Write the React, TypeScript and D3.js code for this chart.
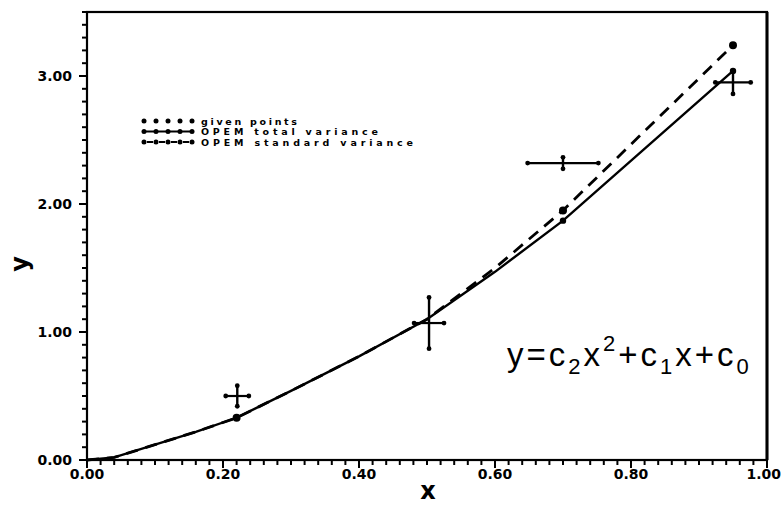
import { useRef, useEffect } from "react";
import * as d3 from "d3";

// axis ticks
const X_MAJOR = [0, 0.2, 0.4, 0.6, 0.8, 1.0];
const X_LABELS = ["0.00", "0.20", "0.40", "0.60", "0.80", "1.00"];
const Y_MAJOR = [0, 1, 2, 3];
const Y_LABELS = ["0.00", "1.00", "2.00", "3.00"];

// fitted curves
const FIT_X = [0.0, 0.04, 0.1, 0.16, 0.22, 0.3, 0.4, 0.5, 0.6, 0.7, 0.95];
const TOTAL_Y = [0, 0.02, 0.12, 0.22, 0.33, 0.54, 0.81, 1.1, 1.47, 1.87, 3.04];
const STANDARD_Y = [0, 0.02, 0.12, 0.22, 0.33, 0.54, 0.81, 1.1, 1.5, 1.95, 3.24];

// fitted values at the data abscissae
const PT_X = [0.22, 0.7, 0.95];
const PT_TOTAL = [0.33, 1.87, 3.04];
const PT_STANDARD = [0.33, 1.95, 3.24];

// measured points with x and y errors
const DATA_X = [0.221, 0.503, 0.7, 0.95];
const DATA_Y = [0.5, 1.07, 2.32, 2.95];
const DATA_XERR = [0.017, 0.022, 0.052, 0.026];
const DATA_YERR = [0.08, 0.2, 0.045, 0.09];

const LEGEND = ["given points", "OPEM total variance", "OPEM standard variance"];

const W = 782;
const H = 511;

export default function App() {
  const svgRef = useRef<SVGSVGElement>(null);

  useEffect(() => {
    const svg = d3.select(svgRef.current);
    svg.selectAll("*").remove();

    const x = d3.scaleLinear().domain([0, 1]).range([87, 767]);
    const y = d3.scaleLinear().domain([0, 3.5]).range([460, 12]);
    const font = "'DejaVu Sans', sans-serif";

    // frame
    const g = svg.append("g");
    g.append("rect")
      .attr("x", x(0)).attr("y", y(3.5))
      .attr("width", x(1) - x(0)).attr("height", y(0) - y(3.5))
      .attr("fill", "none").attr("stroke", "#000").attr("stroke-width", 2.2);
    g.append("line")
      .attr("x1", x(1)).attr("x2", x(1)).attr("y1", y(3.5)).attr("y2", y(0))
      .attr("stroke", "#000").attr("stroke-width", 3);

    // x ticks
    const xMinor = d3.range(0, 51).map((i) => i * 0.02);
    g.selectAll(".xt").data(xMinor).enter().append("line")
      .attr("x1", (d) => x(d)).attr("x2", (d) => x(d))
      .attr("y1", y(0)).attr("y2", (d, i) => y(0) + (i % 10 === 0 ? 8 : 5))
      .attr("stroke", "#000").attr("stroke-width", 2);
    g.selectAll(".xl").data(X_MAJOR).enter().append("text")
      .attr("x", (d, i) => (i === X_MAJOR.length - 1 ? W - 1 : x(d)))
      .attr("y", y(0) + 19)
      .attr("text-anchor", (d, i) => (i === X_MAJOR.length - 1 ? "end" : "middle"))
      .attr("font-family", font).attr("font-weight", "bold").attr("font-size", 14)
      .text((d, i) => X_LABELS[i]);

    // y ticks
    const yMinor = d3.range(0, 36).map((i) => i * 0.1);
    g.selectAll(".yt").data(yMinor).enter().append("line")
      .attr("x1", x(0)).attr("x2", (d, i) => x(0) - (i % 10 === 0 ? 8 : 5))
      .attr("y1", (d) => y(d)).attr("y2", (d) => y(d))
      .attr("stroke", "#000").attr("stroke-width", 2);
    g.selectAll(".yl").data(Y_MAJOR).enter().append("text")
      .attr("x", 72).attr("y", (d) => y(d) + 5)
      .attr("text-anchor", "end")
      .attr("font-family", font).attr("font-weight", "bold").attr("font-size", 14)
      .text((d, i) => Y_LABELS[i]);

    // axis titles
    g.append("text")
      .attr("x", 428).attr("y", 499).attr("text-anchor", "middle")
      .attr("font-family", font).attr("font-size", 24).attr("font-weight", 600).text("x");
    g.append("text")
      .attr("transform", "translate(28,264) rotate(-90)").attr("text-anchor", "middle")
      .attr("font-family", font).attr("font-size", 24).attr("font-weight", 600).text("y");

    // curves
    const line = d3.line<number>().x((d, i) => x(FIT_X[i])).y((d) => y(d));
    g.append("path").attr("d", line(TOTAL_Y))
      .attr("fill", "none").attr("stroke", "#000").attr("stroke-width", 2.4);
    g.append("path").attr("d", line(STANDARD_Y))
      .attr("fill", "none").attr("stroke", "#000").attr("stroke-width", 2.8)
      .attr("stroke-dasharray", "12 8");

    // fitted points
    g.selectAll(".ps").data(PT_STANDARD).enter().append("circle")
      .attr("cx", (d, i) => x(PT_X[i])).attr("cy", (d) => y(d)).attr("r", 4);
    g.selectAll(".pt").data(PT_TOTAL).enter().append("circle")
      .attr("cx", (d, i) => x(PT_X[i])).attr("cy", (d) => y(d)).attr("r", 3.2);

    // error crosses
    DATA_X.forEach((dx, i) => {
      const cx = x(dx), cy = y(DATA_Y[i]);
      const x0 = x(dx - DATA_XERR[i]), x1 = x(dx + DATA_XERR[i]);
      const y0 = y(DATA_Y[i] - DATA_YERR[i]), y1 = y(DATA_Y[i] + DATA_YERR[i]);
      g.append("line").attr("x1", x0).attr("x2", x1).attr("y1", cy).attr("y2", cy)
        .attr("stroke", "#000").attr("stroke-width", 2.2);
      g.append("line").attr("x1", cx).attr("x2", cx).attr("y1", y0).attr("y2", y1)
        .attr("stroke", "#000").attr("stroke-width", 2.4);
      [[x0, cy], [x1, cy], [cx, y0], [cx, y1]].forEach(([px, py]) =>
        g.append("circle").attr("cx", px).attr("cy", py).attr("r", 2.4));
    });

    // legend
    const lg = g.append("g");
    const rows = [121, 131.5, 142];
    const mx = d3.range(0, 5).map((i) => 144 + i * 12);
    const widths = [96, 177, 212];
    LEGEND.forEach((label, r) => {
      const ry = rows[r];
      if (r === 1) {
        lg.append("line").attr("x1", mx[0]).attr("x2", mx[4]).attr("y1", ry).attr("y2", ry)
          .attr("stroke", "#000").attr("stroke-width", 2);
      }
      if (r === 2) {
        lg.append("line").attr("x1", mx[0]).attr("x2", mx[4]).attr("y1", ry).attr("y2", ry)
          .attr("stroke", "#000").attr("stroke-width", 1.8).attr("stroke-dasharray", "6 6")
          .attr("stroke-dashoffset", -3);
      }
      mx.forEach((px) => lg.append("circle").attr("cx", px).attr("cy", ry).attr("r", 2.5));
      lg.append("text").attr("x", 201).attr("y", ry + 3.5)
        .attr("font-family", font).attr("font-size", 9.5).attr("font-weight", "bold")
        .attr("textLength", widths[r]).attr("lengthAdjust", "spacing")
        .text(label);
    });

    // equation
    const eq = g.append("text").attr("x", 507).attr("y", 366)
      .attr("font-family", "'Liberation Sans', sans-serif").attr("font-size", 33)
      .attr("letter-spacing", 3);
    const parts: [string, string][] = [
      ["y=c", ""], ["2", "sub"], ["x", ""], ["2", "sup"], ["+c", ""], ["1", "sub"],
      ["x+c", ""], ["0", "sub"],
    ];
    let shift = 0;
    parts.forEach(([t, k]) => {
      const target = k === "sub" ? 8 : k === "sup" ? -15 : 0;
      const ts = eq.append("tspan").text(t).attr("dy", target - shift);
      if (k !== "") ts.attr("font-size", 22);
      shift = target;
    });
  }, []);

  return (
    <div style={{ position: "absolute", left: 0, top: 0, background: "#fff" }}>
      <svg ref={svgRef} width={W} height={H} style={{ display: "block" }} />
    </div>
  );
}
